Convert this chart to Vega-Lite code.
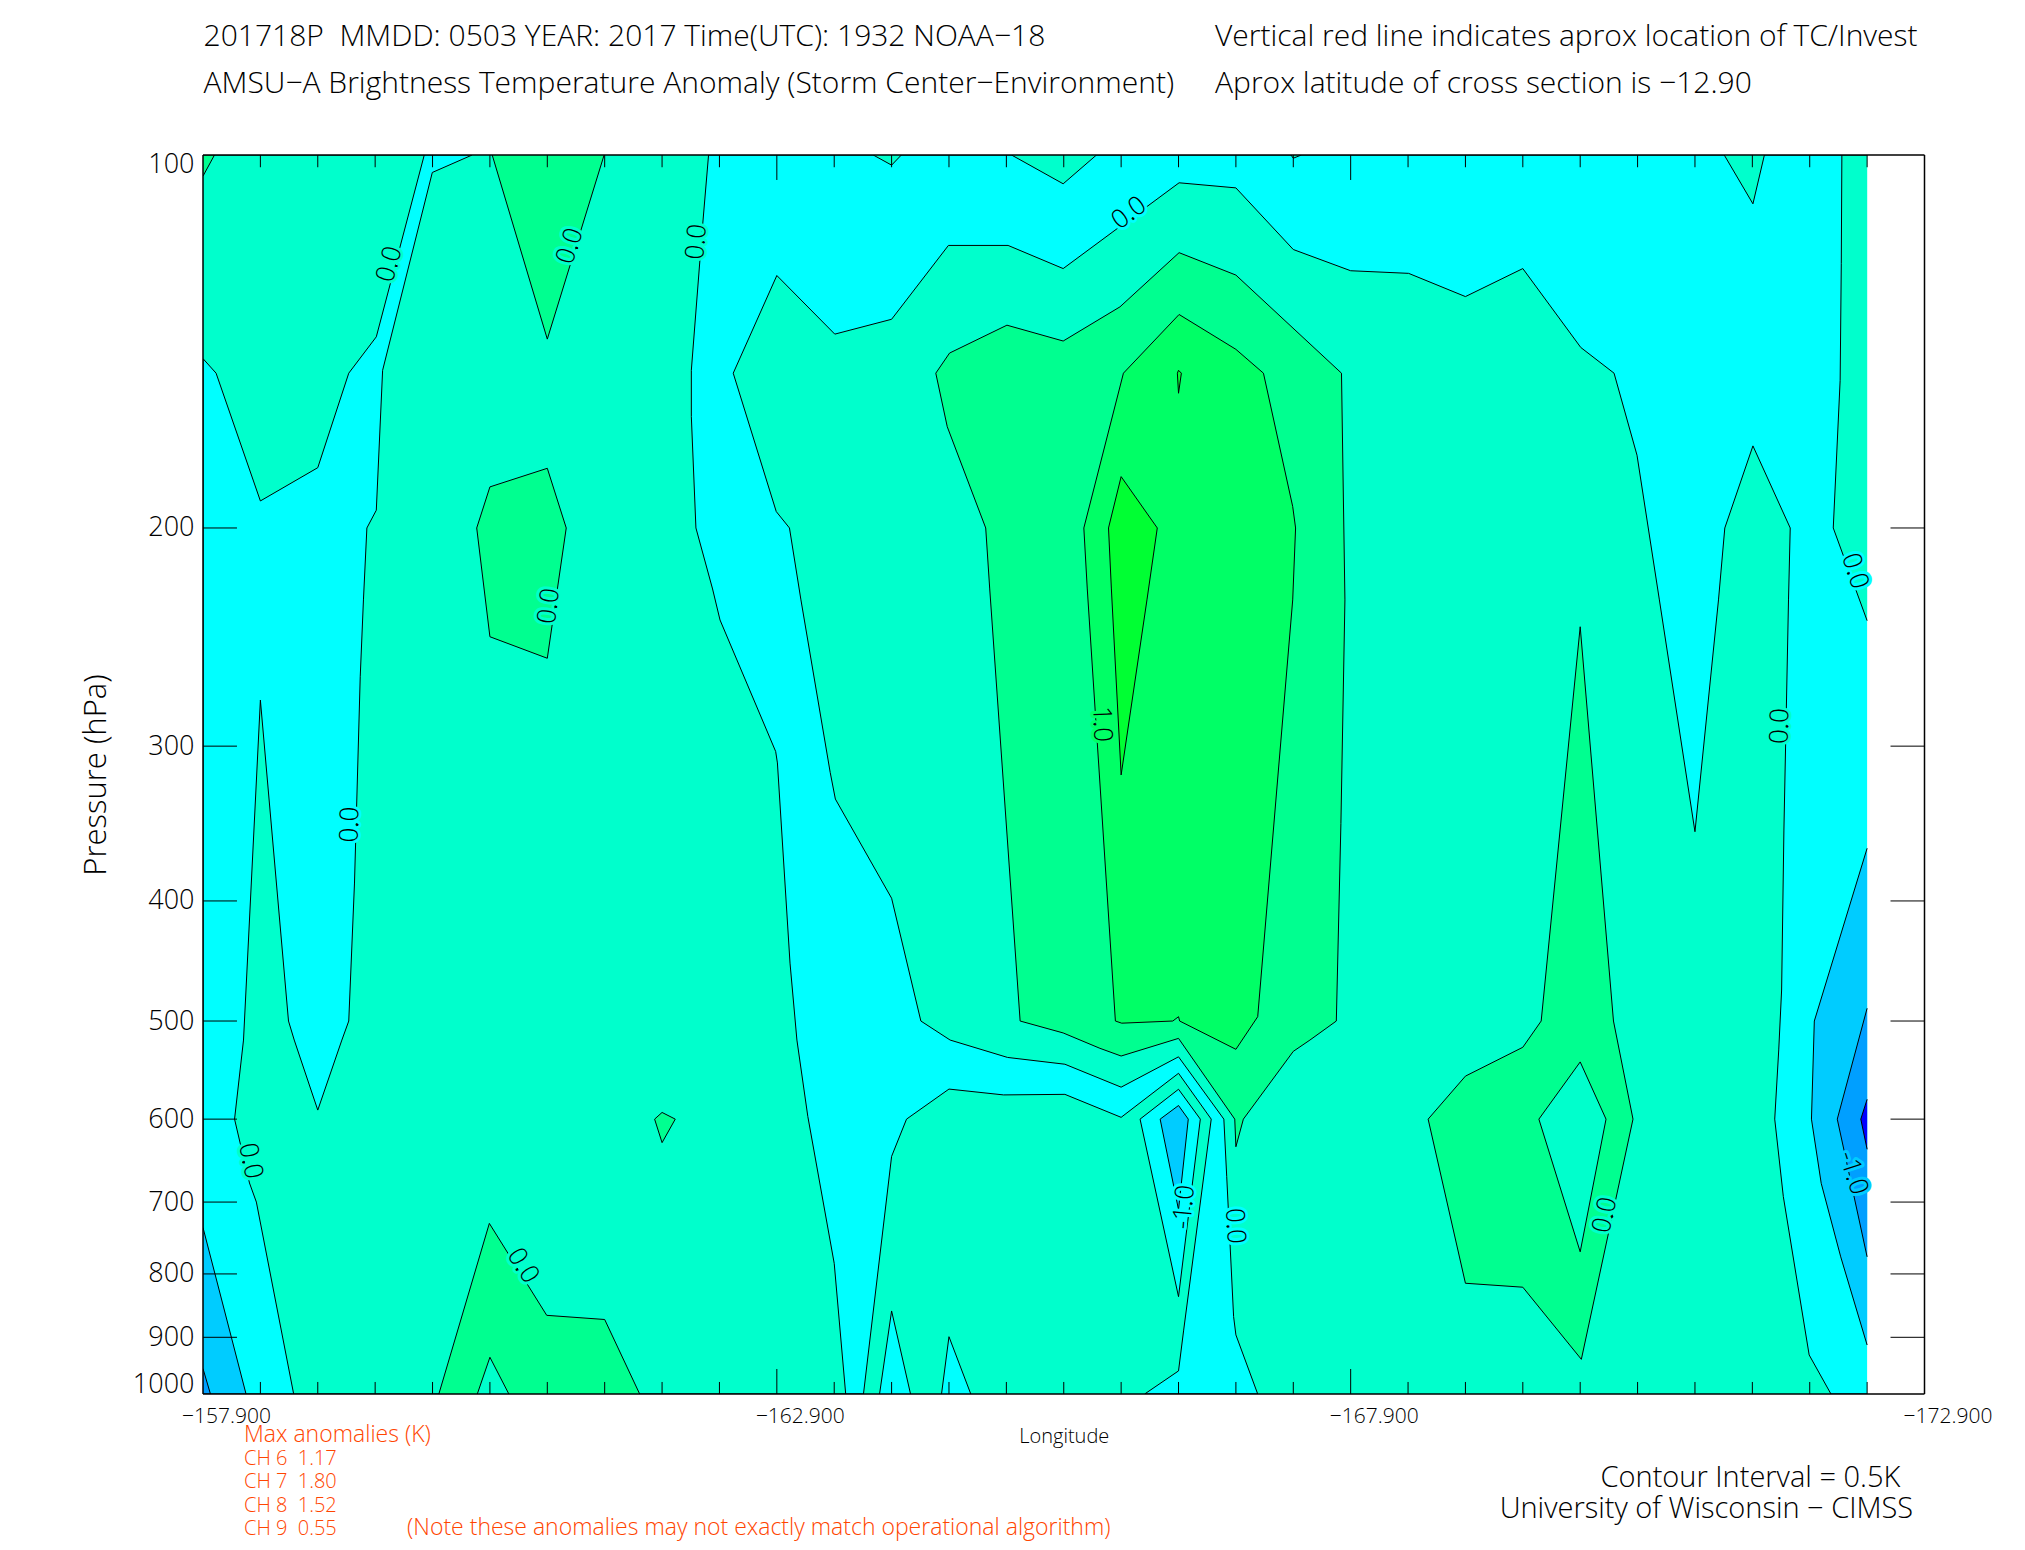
{"$schema":"https://vega.github.io/schema/vega-lite/v6.json","width":1721.5,"height":1239,"autosize":{"type":"none"},"padding":{"left":203,"top":155,"right":100,"bottom":156},"background":"white","config":{"view":{"stroke":null},"font":"Open Sans"},
"datasets":{
"polys":[
{"poly":"P01","band":"-0.25","i":1,"lon":-172.4,"p":100},{"poly":"P01","band":"-0.25","i":2,"lon":-157.9,"p":100},{"poly":"P01","band":"-0.25","i":3,"lon":-157.9,"p":1000},{"poly":"P01","band":"-0.25","i":4,"lon":-172.4,"p":1000},
{"poly":"P02","band":"0.25","i":1,"lon":-157.9,"p":100},{"poly":"P02","band":"0.25","i":2,"lon":-159.828,"p":100},{"poly":"P02","band":"0.25","i":3,"lon":-159.41,"p":140.2},{"poly":"P02","band":"0.25","i":4,"lon":-159.17,"p":150},{"poly":"P02","band":"0.25","i":5,"lon":-158.9,"p":178.8},{"poly":"P02","band":"0.25","i":6,"lon":-158.4,"p":190.2},{"poly":"P02","band":"0.25","i":7,"lon":-158.014,"p":150},{"poly":"P02","band":"0.25","i":8,"lon":-157.9,"p":146},
{"poly":"P03","band":"0.25","i":1,"lon":-160.245,"p":100},{"poly":"P03","band":"0.25","i":2,"lon":-159.898,"p":103.3},{"poly":"P03","band":"0.25","i":3,"lon":-159.465,"p":149.2},{"poly":"P03","band":"0.25","i":4,"lon":-159.41,"p":193.5},{"poly":"P03","band":"0.25","i":5,"lon":-159.328,"p":200},{"poly":"P03","band":"0.25","i":6,"lon":-159.298,"p":228.6},{"poly":"P03","band":"0.25","i":7,"lon":-159.27,"p":263.7},{"poly":"P03","band":"0.25","i":8,"lon":-159.22,"p":386.9},{"poly":"P03","band":"0.25","i":9,"lon":-159.17,"p":500},{"poly":"P03","band":"0.25","i":10,"lon":-159.11,"p":518},{"poly":"P03","band":"0.25","i":11,"lon":-158.9,"p":590},{"poly":"P03","band":"0.25","i":12,"lon":-158.695,"p":518},{"poly":"P03","band":"0.25","i":13,"lon":-158.645,"p":500},{"poly":"P03","band":"0.25","i":14,"lon":-158.4,"p":275.4},{"poly":"P03","band":"0.25","i":15,"lon":-158.253,"p":518},{"poly":"P03","band":"0.25","i":16,"lon":-158.175,"p":600},{"poly":"P03","band":"0.25","i":17,"lon":-158.305,"p":675.6},{"poly":"P03","band":"0.25","i":18,"lon":-158.365,"p":700},{"poly":"P03","band":"0.25","i":19,"lon":-158.69,"p":1000},{"poly":"P03","band":"0.25","i":20,"lon":-163.5,"p":1000},{"poly":"P03","band":"0.25","i":21,"lon":-163.4,"p":784.4},{"poly":"P03","band":"0.25","i":22,"lon":-163.17,"p":597},{"poly":"P03","band":"0.25","i":23,"lon":-163.075,"p":518},{"poly":"P03","band":"0.25","i":24,"lon":-163.015,"p":449},{"poly":"P03","band":"0.25","i":25,"lon":-162.905,"p":309.5},{"poly":"P03","band":"0.25","i":26,"lon":-162.89,"p":303},{"poly":"P03","band":"0.25","i":27,"lon":-162.405,"p":237.3},{"poly":"P03","band":"0.25","i":28,"lon":-162.34,"p":224},{"poly":"P03","band":"0.25","i":29,"lon":-162.195,"p":200},{"poly":"P03","band":"0.25","i":30,"lon":-162.155,"p":162.6},{"poly":"P03","band":"0.25","i":31,"lon":-162.155,"p":149.2},{"poly":"P03","band":"0.25","i":32,"lon":-162.255,"p":113.5},{"poly":"P03","band":"0.25","i":33,"lon":-162.305,"p":100},
{"poly":"P04","band":"0.25","i":1,"lon":-167.09,"p":1000},{"poly":"P04","band":"0.25","i":2,"lon":-166.9,"p":896},{"poly":"P04","band":"0.25","i":3,"lon":-166.88,"p":866},{"poly":"P04","band":"0.25","i":4,"lon":-166.82,"p":667.7},{"poly":"P04","band":"0.25","i":5,"lon":-166.795,"p":600},{"poly":"P04","band":"0.25","i":6,"lon":-166.4,"p":534.4},{"poly":"P04","band":"0.25","i":7,"lon":-165.9,"p":565.4},{"poly":"P04","band":"0.25","i":8,"lon":-165.41,"p":541.8},{"poly":"P04","band":"0.25","i":9,"lon":-164.91,"p":535},{"poly":"P04","band":"0.25","i":10,"lon":-164.41,"p":518},{"poly":"P04","band":"0.25","i":11,"lon":-164.155,"p":500},{"poly":"P04","band":"0.25","i":12,"lon":-163.9,"p":398},{"poly":"P04","band":"0.25","i":13,"lon":-163.41,"p":331},{"poly":"P04","band":"0.25","i":14,"lon":-163.365,"p":315},{"poly":"P04","band":"0.25","i":15,"lon":-163.11,"p":228.6},{"poly":"P04","band":"0.25","i":16,"lon":-163.01,"p":200},{"poly":"P04","band":"0.25","i":17,"lon":-162.895,"p":194},{"poly":"P04","band":"0.25","i":18,"lon":-162.52,"p":150},{"poly":"P04","band":"0.25","i":19,"lon":-162.9,"p":125.1},{"poly":"P04","band":"0.25","i":20,"lon":-163.405,"p":139.5},{"poly":"P04","band":"0.25","i":21,"lon":-163.9,"p":135.7},{"poly":"P04","band":"0.25","i":22,"lon":-164.395,"p":118.3},{"poly":"P04","band":"0.25","i":23,"lon":-164.915,"p":118.3},{"poly":"P04","band":"0.25","i":24,"lon":-165.395,"p":123.5},{"poly":"P04","band":"0.25","i":25,"lon":-166.405,"p":105.3},{"poly":"P04","band":"0.25","i":26,"lon":-166.9,"p":106.3},{"poly":"P04","band":"0.25","i":27,"lon":-167.4,"p":119.2},{"poly":"P04","band":"0.25","i":28,"lon":-167.9,"p":124},{"poly":"P04","band":"0.25","i":29,"lon":-168.405,"p":124.6},{"poly":"P04","band":"0.25","i":30,"lon":-168.9,"p":130.1},{"poly":"P04","band":"0.25","i":31,"lon":-169.4,"p":123.5},{"poly":"P04","band":"0.25","i":32,"lon":-169.905,"p":143},{"poly":"P04","band":"0.25","i":33,"lon":-170.195,"p":150},{"poly":"P04","band":"0.25","i":34,"lon":-170.395,"p":174.7},{"poly":"P04","band":"0.25","i":35,"lon":-170.59,"p":228.6},{"poly":"P04","band":"0.25","i":36,"lon":-170.9,"p":351.7},{"poly":"P04","band":"0.25","i":37,"lon":-171.105,"p":228.6},{"poly":"P04","band":"0.25","i":38,"lon":-171.16,"p":200},{"poly":"P04","band":"0.25","i":39,"lon":-171.405,"p":171.7},{"poly":"P04","band":"0.25","i":40,"lon":-171.73,"p":200},{"poly":"P04","band":"0.25","i":41,"lon":-171.715,"p":228.6},{"poly":"P04","band":"0.25","i":42,"lon":-171.675,"p":350.6},{"poly":"P04","band":"0.25","i":43,"lon":-171.655,"p":472},{"poly":"P04","band":"0.25","i":44,"lon":-171.63,"p":527.6},{"poly":"P04","band":"0.25","i":45,"lon":-171.595,"p":600},{"poly":"P04","band":"0.25","i":46,"lon":-171.67,"p":693},{"poly":"P04","band":"0.25","i":47,"lon":-171.895,"p":930},{"poly":"P04","band":"0.25","i":48,"lon":-172.085,"p":1000},
{"poly":"P05","band":"0.25","i":1,"lon":-163.655,"p":1000},{"poly":"P05","band":"0.25","i":2,"lon":-163.9,"p":643},{"poly":"P05","band":"0.25","i":3,"lon":-164.03,"p":600},{"poly":"P05","band":"0.25","i":4,"lon":-164.4,"p":567.4},{"poly":"P05","band":"0.25","i":5,"lon":-164.875,"p":573.6},{"poly":"P05","band":"0.25","i":6,"lon":-165.41,"p":573},{"poly":"P05","band":"0.25","i":7,"lon":-165.9,"p":598},{"poly":"P05","band":"0.25","i":8,"lon":-166.4,"p":551},{"poly":"P05","band":"0.25","i":9,"lon":-166.685,"p":600},{"poly":"P05","band":"0.25","i":10,"lon":-166.445,"p":888},{"poly":"P05","band":"0.25","i":11,"lon":-166.4,"p":958},{"poly":"P05","band":"0.25","i":12,"lon":-166.105,"p":1000},
{"poly":"P06","band":"0.25","i":1,"lon":-163.74,"p":100},{"poly":"P06","band":"0.25","i":2,"lon":-163.9,"p":101.9},{"poly":"P06","band":"0.25","i":3,"lon":-163.985,"p":100},
{"poly":"P07","band":"0.25","i":1,"lon":-164.945,"p":100},{"poly":"P07","band":"0.25","i":2,"lon":-165.395,"p":105.5},{"poly":"P07","band":"0.25","i":3,"lon":-165.685,"p":100},
{"poly":"P08","band":"0.25","i":1,"lon":-167.38,"p":100},{"poly":"P08","band":"0.25","i":2,"lon":-167.4,"p":100.6},{"poly":"P08","band":"0.25","i":3,"lon":-167.47,"p":100},
{"poly":"P09","band":"0.25","i":1,"lon":-171.155,"p":100},{"poly":"P09","band":"0.25","i":2,"lon":-171.405,"p":109.5},{"poly":"P09","band":"0.25","i":3,"lon":-171.505,"p":100},
{"poly":"P10","band":"0.25","i":1,"lon":-172.4,"p":100},{"poly":"P10","band":"0.25","i":2,"lon":-172.18,"p":100},{"poly":"P10","band":"0.25","i":3,"lon":-172.175,"p":122.3},{"poly":"P10","band":"0.25","i":4,"lon":-172.165,"p":152},{"poly":"P10","band":"0.25","i":5,"lon":-172.105,"p":200},{"poly":"P10","band":"0.25","i":6,"lon":-172.4,"p":237.6},
{"poly":"P11","band":"-0.25","i":1,"lon":-163.795,"p":1000},{"poly":"P11","band":"-0.25","i":2,"lon":-163.9,"p":857},{"poly":"P11","band":"-0.25","i":3,"lon":-164.065,"p":1000},
{"poly":"P12","band":"-0.25","i":1,"lon":-164.335,"p":1000},{"poly":"P12","band":"-0.25","i":2,"lon":-164.4,"p":899},{"poly":"P12","band":"-0.25","i":3,"lon":-164.59,"p":1000},
{"poly":"P13","band":"-0.25","i":1,"lon":-166.065,"p":600},{"poly":"P13","band":"-0.25","i":2,"lon":-166.4,"p":567.6},{"poly":"P13","band":"-0.25","i":3,"lon":-166.59,"p":600},{"poly":"P13","band":"-0.25","i":4,"lon":-166.4,"p":834.5},{"poly":"P13","band":"-0.25","i":5,"lon":-166.065,"p":600},
{"poly":"P14","band":"0.75","i":1,"lon":-157.9,"p":100},{"poly":"P14","band":"0.75","i":2,"lon":-158,"p":100},{"poly":"P14","band":"0.75","i":3,"lon":-157.9,"p":104},
{"poly":"P15","band":"0.75","i":1,"lon":-160.42,"p":100},{"poly":"P15","band":"0.75","i":2,"lon":-160.9,"p":140.8},{"poly":"P15","band":"0.75","i":3,"lon":-161.395,"p":100},
{"poly":"P16","band":"0.75","i":1,"lon":-160.4,"p":185.3},{"poly":"P16","band":"0.75","i":2,"lon":-160.9,"p":179},{"poly":"P16","band":"0.75","i":3,"lon":-161.065,"p":200},{"poly":"P16","band":"0.75","i":4,"lon":-160.9,"p":254.8},{"poly":"P16","band":"0.75","i":5,"lon":-160.4,"p":244.8},{"poly":"P16","band":"0.75","i":6,"lon":-160.285,"p":200},{"poly":"P16","band":"0.75","i":7,"lon":-160.4,"p":185.3},
{"poly":"P17","band":"0.75","i":1,"lon":-161.9,"p":592.6},{"poly":"P17","band":"0.75","i":2,"lon":-162.015,"p":600},{"poly":"P17","band":"0.75","i":3,"lon":-161.9,"p":626.8},{"poly":"P17","band":"0.75","i":4,"lon":-161.835,"p":600},{"poly":"P17","band":"0.75","i":5,"lon":-161.9,"p":592.6},
{"poly":"P18","band":"0.75","i":1,"lon":-159.955,"p":1000},{"poly":"P18","band":"0.75","i":2,"lon":-160.395,"p":728.3},{"poly":"P18","band":"0.75","i":3,"lon":-160.895,"p":864},{"poly":"P18","band":"0.75","i":4,"lon":-161.4,"p":870.7},{"poly":"P18","band":"0.75","i":5,"lon":-161.705,"p":1000},
{"poly":"P19","band":"0.25","i":1,"lon":-160.29,"p":1000},{"poly":"P19","band":"0.25","i":2,"lon":-160.4,"p":934},{"poly":"P19","band":"0.25","i":3,"lon":-160.565,"p":1000},
{"poly":"P20","band":"0.75","i":1,"lon":-166.405,"p":119.9},{"poly":"P20","band":"0.75","i":2,"lon":-166.9,"p":125},{"poly":"P20","band":"0.75","i":3,"lon":-167.82,"p":150},{"poly":"P20","band":"0.75","i":4,"lon":-167.85,"p":228.6},{"poly":"P20","band":"0.75","i":5,"lon":-167.815,"p":346.4},{"poly":"P20","band":"0.75","i":6,"lon":-167.775,"p":500},{"poly":"P20","band":"0.75","i":7,"lon":-167.545,"p":518},{"poly":"P20","band":"0.75","i":8,"lon":-167.4,"p":529},{"poly":"P20","band":"0.75","i":9,"lon":-166.965,"p":600},{"poly":"P20","band":"0.75","i":10,"lon":-166.9,"p":631.6},{"poly":"P20","band":"0.75","i":11,"lon":-166.89,"p":600},{"poly":"P20","band":"0.75","i":12,"lon":-166.4,"p":516.4},{"poly":"P20","band":"0.75","i":13,"lon":-165.9,"p":533.6},{"poly":"P20","band":"0.75","i":14,"lon":-165.715,"p":526},{"poly":"P20","band":"0.75","i":15,"lon":-165.395,"p":511.2},{"poly":"P20","band":"0.75","i":16,"lon":-165.02,"p":500},{"poly":"P20","band":"0.75","i":17,"lon":-164.755,"p":224},{"poly":"P20","band":"0.75","i":18,"lon":-164.72,"p":200},{"poly":"P20","band":"0.75","i":19,"lon":-164.385,"p":165.7},{"poly":"P20","band":"0.75","i":20,"lon":-164.285,"p":150},{"poly":"P20","band":"0.75","i":21,"lon":-164.405,"p":144.5},{"poly":"P20","band":"0.75","i":22,"lon":-164.905,"p":137.2},{"poly":"P20","band":"0.75","i":23,"lon":-165.395,"p":141.3},{"poly":"P20","band":"0.75","i":24,"lon":-165.89,"p":132.6},{"poly":"P20","band":"0.75","i":25,"lon":-166.405,"p":119.9},
{"poly":"P21","band":"0.75","i":1,"lon":-168.575,"p":600},{"poly":"P21","band":"0.75","i":2,"lon":-168.9,"p":553.9},{"poly":"P21","band":"0.75","i":3,"lon":-169.4,"p":525},{"poly":"P21","band":"0.75","i":4,"lon":-169.56,"p":500},{"poly":"P21","band":"0.75","i":5,"lon":-169.9,"p":240.3},{"poly":"P21","band":"0.75","i":6,"lon":-170.19,"p":500},{"poly":"P21","band":"0.75","i":7,"lon":-170.36,"p":600},{"poly":"P21","band":"0.75","i":8,"lon":-169.91,"p":937.6},{"poly":"P21","band":"0.75","i":9,"lon":-169.4,"p":820},{"poly":"P21","band":"0.75","i":10,"lon":-168.9,"p":814},{"poly":"P21","band":"0.75","i":11,"lon":-168.575,"p":600},
{"poly":"P22","band":"0.25","i":1,"lon":-169.9,"p":539.5},{"poly":"P22","band":"0.25","i":2,"lon":-170.125,"p":600},{"poly":"P22","band":"0.25","i":3,"lon":-169.9,"p":767.8},{"poly":"P22","band":"0.25","i":4,"lon":-169.54,"p":600},{"poly":"P22","band":"0.25","i":5,"lon":-169.9,"p":539.5},
{"poly":"P23","band":"1.25","i":1,"lon":-166.405,"p":134.5},{"poly":"P23","band":"1.25","i":2,"lon":-166.9,"p":143.5},{"poly":"P23","band":"1.25","i":3,"lon":-167.14,"p":150},{"poly":"P23","band":"1.25","i":4,"lon":-167.395,"p":192.2},{"poly":"P23","band":"1.25","i":5,"lon":-167.42,"p":200},{"poly":"P23","band":"1.25","i":6,"lon":-167.395,"p":228.6},{"poly":"P23","band":"1.25","i":7,"lon":-167.09,"p":496},{"poly":"P23","band":"1.25","i":8,"lon":-166.9,"p":527},{"poly":"P23","band":"1.25","i":9,"lon":-166.41,"p":500},{"poly":"P23","band":"1.25","i":10,"lon":-166.4,"p":496},{"poly":"P23","band":"1.25","i":11,"lon":-166.35,"p":500},{"poly":"P23","band":"1.25","i":12,"lon":-165.905,"p":502},{"poly":"P23","band":"1.25","i":13,"lon":-165.85,"p":500},{"poly":"P23","band":"1.25","i":14,"lon":-165.605,"p":224},{"poly":"P23","band":"1.25","i":15,"lon":-165.575,"p":200},{"poly":"P23","band":"1.25","i":16,"lon":-165.92,"p":150},{"poly":"P23","band":"1.25","i":17,"lon":-166.405,"p":134.5},
{"poly":"P24","band":"1.75","i":1,"lon":-165.9,"p":181.8},{"poly":"P24","band":"1.75","i":2,"lon":-166.215,"p":200},{"poly":"P24","band":"1.75","i":3,"lon":-166.125,"p":228.6},{"poly":"P24","band":"1.75","i":4,"lon":-165.9,"p":316.5},{"poly":"P24","band":"1.75","i":5,"lon":-165.815,"p":224},{"poly":"P24","band":"1.75","i":6,"lon":-165.79,"p":200},{"poly":"P24","band":"1.75","i":7,"lon":-165.9,"p":181.8},
{"poly":"P25","band":"1.75","i":1,"lon":-166.39,"p":150},{"poly":"P25","band":"1.75","i":2,"lon":-166.4,"p":149.2},{"poly":"P25","band":"1.75","i":3,"lon":-166.425,"p":150},{"poly":"P25","band":"1.75","i":4,"lon":-166.4,"p":155.7},{"poly":"P25","band":"1.75","i":5,"lon":-166.39,"p":150},
{"poly":"P26","band":"-0.75","i":1,"lon":-157.9,"p":734},{"poly":"P26","band":"-0.75","i":2,"lon":-158.275,"p":1000},{"poly":"P26","band":"-0.75","i":3,"lon":-157.9,"p":1000},
{"poly":"P27","band":"-1.25","i":1,"lon":-157.9,"p":954},{"poly":"P27","band":"-1.25","i":2,"lon":-157.965,"p":1000},{"poly":"P27","band":"-1.25","i":3,"lon":-157.9,"p":1000},
{"poly":"P28","band":"-0.75","i":1,"lon":-172.4,"p":362.7},{"poly":"P28","band":"-0.75","i":2,"lon":-171.94,"p":500},{"poly":"P28","band":"-0.75","i":3,"lon":-171.915,"p":600},{"poly":"P28","band":"-0.75","i":4,"lon":-172,"p":676},{"poly":"P28","band":"-0.75","i":5,"lon":-172.17,"p":775},{"poly":"P28","band":"-0.75","i":6,"lon":-172.4,"p":913},
{"poly":"P29","band":"-1.25","i":1,"lon":-172.4,"p":488.3},{"poly":"P29","band":"-1.25","i":2,"lon":-172.14,"p":600},{"poly":"P29","band":"-1.25","i":3,"lon":-172.4,"p":775},
{"poly":"P30","band":"-1.75","i":1,"lon":-172.4,"p":578.3},{"poly":"P30","band":"-1.75","i":2,"lon":-172.345,"p":600},{"poly":"P30","band":"-1.75","i":3,"lon":-172.4,"p":634.6},
{"poly":"P31","band":"-0.75","i":1,"lon":-166.24,"p":600},{"poly":"P31","band":"-0.75","i":2,"lon":-166.4,"p":585},{"poly":"P31","band":"-0.75","i":3,"lon":-166.485,"p":600},{"poly":"P31","band":"-0.75","i":4,"lon":-166.4,"p":710},{"poly":"P31","band":"-0.75","i":5,"lon":-166.24,"p":600}
],
"labels":[
{"t":"0.0","lon":-159.525,"p":122.5,"angle":-75,"bg":"0.25"},{"t":"0.0","lon":-161.098,"p":118.4,"angle":-72,"bg":"0.25"},{"t":"0.0","lon":-162.201,"p":117.5,"angle":-85,"bg":"0.25"},{"t":"0.0","lon":-160.915,"p":231.2,"angle":-83,"bg":"0.25"},{"t":"0.0","lon":-165.968,"p":111.4,"angle":-37,"bg":"-0.25"},{"t":"0.0","lon":-172.294,"p":216.7,"angle":72,"bg":"-0.25"},{"t":"0.0","lon":-159.181,"p":347,"angle":-88,"bg":"-0.25"},{"t":"1.0","lon":-165.733,"p":288,"angle":88,"bg":"1.25"},{"t":"0.0","lon":-171.641,"p":289,"angle":-88,"bg":"0.25"},{"t":"0.0","lon":-158.314,"p":648.5,"angle":78,"bg":"0.25"},{"t":"0.0","lon":-160.688,"p":788,"angle":57,"bg":"0.25"},{"t":"0.0","lon":-166.892,"p":731.9,"angle":87,"bg":"-0.25"},{"t":"-1.0","lon":-166.448,"p":706.6,"angle":-85,"bg":"-0.25"},{"t":"0.0","lon":-170.116,"p":717.1,"angle":-78,"bg":"0.25"},{"t":"-1.0","lon":-172.277,"p":663,"angle":72,"bg":"-0.75"}
],
"minor":[{"lon":-158.4},{"lon":-158.9},{"lon":-159.4},{"lon":-159.9},{"lon":-160.4},{"lon":-160.9},{"lon":-161.4},{"lon":-161.9},{"lon":-162.4},{"lon":-163.4},{"lon":-163.9},{"lon":-164.4},{"lon":-164.9},{"lon":-165.4},{"lon":-165.9},{"lon":-166.4},{"lon":-166.9},{"lon":-167.4},{"lon":-168.4},{"lon":-168.9},{"lon":-169.4},{"lon":-169.9},{"lon":-170.4},{"lon":-170.9},{"lon":-171.4},{"lon":-171.9},{"lon":-172.4}],
"major":[{"lon":-162.9},{"lon":-167.9}],
"ptick":[{"p":200},{"p":300},{"p":400},{"p":500},{"p":600},{"p":700},{"p":800},{"p":900}],
"frame":[{"a":-157.9,"b":-172.9,"p1":100,"p2":100},{"a":-157.9,"b":-172.9,"p1":1000,"p2":1000},{"a":-157.9,"b":-157.9,"p1":100,"p2":1000},{"a":-172.9,"b":-172.9,"p1":100,"p2":1000}],
"head":[{"t":"201718P\u00a0\u00a0MMDD: 0503 YEAR: 2017 Time(UTC): 1932 NOAA−18","lon":-157.905,"p":81.66},{"t":"AMSU−A Brightness Temperature Anomaly (Storm Center−Environment)","lon":-157.905,"p":89.1},{"t":"Vertical red line indicates aprox location of TC/Invest","lon":-166.718,"p":81.66},{"t":"Aprox latitude of cross section is −12.90","lon":-166.718,"p":89.1}],
"ch":[{"t":"CH 6\u00a0\u00a01.17","lon":-158.257,"p":1141},{"t":"CH 7\u00a0\u00a01.80","lon":-158.257,"p":1191},{"t":"CH 8\u00a0\u00a01.52","lon":-158.257,"p":1244.6},{"t":"CH 9\u00a0\u00a00.55","lon":-158.257,"p":1299.5}],
"orange":[{"t":"Max anomalies (K)","lon":-158.257,"p":1092.7},{"t":"(Note these anomalies may not exactly match operational algorithm)","lon":-159.678,"p":1299.5}],
"foot":[{"t":"Contour Interval = 0.5K","lon":-170.077,"p":1188.8},{"t":"University of Wisconsin − CIMSS","lon":-169.198,"p":1258.6}]
},
"layer":[
{"data":{"name":"polys"},"mark":{"type":"line","stroke":"black","strokeWidth":1,"clip":true},
"encoding":{"x":{"field":"lon","type":"quantitative","scale":{"domain":[-157.9,-172.9],"zero":false,"nice":false},"axis":{"values":[-157.9,-162.9,-167.9,-172.9],"format":".3f","domain":false,"ticks":false,"grid":false,"labelFontSize":21,"labelOffset":23,"labelPadding":11,"labelColor":"black","labelFontWeight":300,"labelOverlap":false,"labelFlush":false,"title":"Longitude","titleFontSize":20,"titleFontWeight":300,"titleColor":"black","titlePadding":0}},
"y":{"field":"p","type":"quantitative","scale":{"type":"log","domain":[100,1000],"reverse":true,"nice":false},"axis":{"values":[100,200,300,400,500,600,700,800,900,1000],"format":"d","domain":false,"ticks":false,"grid":false,"labelFontSize":27,"labelPadding":9,"labelFlush":true,"labelFlushOffset":4,"labelOverlap":false,"labelColor":"black","labelFontWeight":300,"title":"Pressure (hPa)","titleFontSize":31,"titleFontWeight":300,"titleColor":"black","titlePadding":20}},
"fill":{"field":"band","type":"nominal","legend":null,"scale":{"domain":["-1.75","-1.25","-0.75","-0.25","0.25","0.75","1.25","1.75"],"range":["#0000ff","#009fff","#00ccff","#00ffff","#00ffcc","#00ff90","#00ff66","#00ff33"]}},
"detail":{"field":"poly","type":"nominal"},"order":{"field":"i","type":"quantitative"}}},
{"data":{"name":"labels"},"mark":{"type":"text","fontSize":26,"fontWeight":300,"strokeWidth":6,"strokeJoin":"round"},
"encoding":{"x":{"field":"lon","type":"quantitative"},"y":{"field":"p","type":"quantitative"},"text":{"field":"t"},"angle":{"field":"angle","type":"quantitative","scale":null},"stroke":{"field":"bg","type":"nominal","legend":null,"scale":{"domain":["-0.75","-0.25","0.25","1.25"],"range":["#00ccff","#00ffff","#00ffcc","#00ff66"]}}}},
{"data":{"name":"labels"},"mark":{"type":"text","fontSize":26,"fontWeight":300,"color":"black"},
"encoding":{"x":{"field":"lon","type":"quantitative"},"y":{"field":"p","type":"quantitative"},"text":{"field":"t"},"angle":{"field":"angle","type":"quantitative","scale":null}}},
{"data":{"name":"frame"},"mark":{"type":"rule","color":"black","strokeWidth":1.5},"encoding":{"x":{"field":"a","type":"quantitative"},"x2":{"field":"b"},"y":{"field":"p1","type":"quantitative"},"y2":{"field":"p2"}}},
{"data":{"name":"minor"},"mark":{"type":"rule","color":"black","strokeWidth":1},"encoding":{"x":{"field":"lon","type":"quantitative"},"y":{"datum":100},"y2":{"datum":102.3}}},
{"data":{"name":"minor"},"mark":{"type":"rule","color":"black","strokeWidth":1},"encoding":{"x":{"field":"lon","type":"quantitative"},"y":{"datum":1000},"y2":{"datum":977.9}}},
{"data":{"name":"major"},"mark":{"type":"rule","color":"black","strokeWidth":1},"encoding":{"x":{"field":"lon","type":"quantitative"},"y":{"datum":100},"y2":{"datum":104.75}}},
{"data":{"name":"major"},"mark":{"type":"rule","color":"black","strokeWidth":1},"encoding":{"x":{"field":"lon","type":"quantitative"},"y":{"datum":1000},"y2":{"datum":954.6}}},
{"data":{"name":"ptick"},"mark":{"type":"rule","color":"black","strokeWidth":1},"encoding":{"x":{"datum":-157.9},"x2":{"datum":-158.196},"y":{"field":"p","type":"quantitative"}}},
{"data":{"name":"ptick"},"mark":{"type":"rule","color":"black","strokeWidth":1},"encoding":{"x":{"datum":-172.9},"x2":{"datum":-172.604},"y":{"field":"p","type":"quantitative"}}},
{"data":{"name":"head"},"mark":{"type":"text","align":"left","baseline":"alphabetic","fontSize":30,"fontWeight":300,"color":"black"},"encoding":{"x":{"field":"lon","type":"quantitative"},"y":{"field":"p","type":"quantitative"},"text":{"field":"t"}}},
{"data":{"name":"orange"},"mark":{"type":"text","align":"left","baseline":"alphabetic","fontSize":23,"fontWeight":300,"color":"#ff4500"},"encoding":{"x":{"field":"lon","type":"quantitative"},"y":{"field":"p","type":"quantitative"},"text":{"field":"t"}}},
{"data":{"name":"ch"},"mark":{"type":"text","align":"left","baseline":"alphabetic","fontSize":20,"fontWeight":300,"color":"#ff4500"},"encoding":{"x":{"field":"lon","type":"quantitative"},"y":{"field":"p","type":"quantitative"},"text":{"field":"t"}}},
{"data":{"name":"foot"},"mark":{"type":"text","align":"left","baseline":"alphabetic","fontSize":29,"fontWeight":300,"color":"black"},"encoding":{"x":{"field":"lon","type":"quantitative"},"y":{"field":"p","type":"quantitative"},"text":{"field":"t"}}}
]}
